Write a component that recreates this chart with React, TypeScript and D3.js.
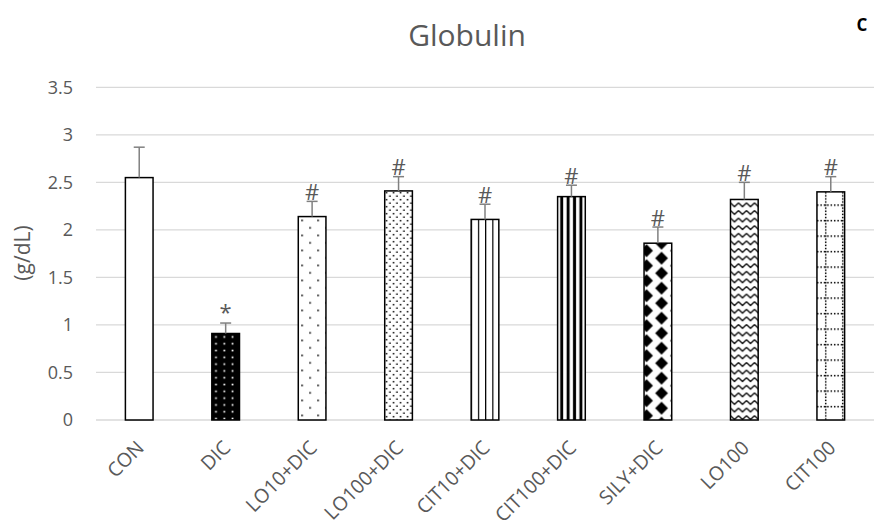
import React from "react";
import * as d3 from "d3";

// Serum globulin per group (g/dL), mean and upward SD
const groups = ["CON", "DIC", "LO10+DIC", "LO100+DIC", "CIT10+DIC", "CIT100+DIC", "SILY+DIC", "LO100", "CIT100"];
const means = [2.55, 0.91, 2.14, 2.41, 2.11, 2.35, 1.86, 2.32, 2.4];
const errors = [0.32, 0.11, 0.16, 0.15, 0.16, 0.12, 0.17, 0.18, 0.16];
const marks = ["", "*", "#", "#", "#", "#", "#", "#", "#"];
const yTicks = [0, 0.5, 1, 1.5, 2, 2.5, 3, 3.5];

// Fill pattern used for each bar, in group order
const fills = ["plain", "darkDots", "sparseDots", "denseDots", "thinVert", "thickVert", "diamonds", "zigzag", "dotGrid"];

const W = 874;
const H = 526;
const FONT = "'Open Sans', 'Liberation Sans', sans-serif";
const TEXT = "#595959";

function Pattern({ id, kind, x, top }: { id: string; kind: string; x: number; top: number }) {
  switch (kind) {
    case "darkDots":
      return (
        <pattern id={id} patternUnits="userSpaceOnUse" x={x} y={top} width={8.3} height={6.8}>
          <rect width={8.3} height={6.8} fill="#000" />
          <rect x={3.3} y={2.6} width={1.7} height={1.7} fill="#fff" />
        </pattern>
      );
    case "sparseDots":
      return (
        <pattern id={id} patternUnits="userSpaceOnUse" x={x} y={top} width={16} height={15}>
          <rect width={16} height={15} fill="#fff" />
          <rect x={3} y={3} width={1.6} height={1.6} fill="#000" />
          <rect x={11} y={10.5} width={1.6} height={1.6} fill="#000" />
        </pattern>
      );
    case "denseDots":
      return (
        <pattern id={id} patternUnits="userSpaceOnUse" x={x} y={top} width={7} height={7}>
          <rect width={7} height={7} fill="#fff" />
          <rect x={1} y={1} width={1.5} height={1.5} fill="#000" />
          <rect x={4.5} y={4.5} width={1.5} height={1.5} fill="#000" />
        </pattern>
      );
    case "thinVert":
      return (
        <pattern id={id} patternUnits="userSpaceOnUse" x={x - 0.5} y={top} width={7.2} height={10}>
          <rect width={7.2} height={10} fill="#fff" />
          <rect x={0} y={0} width={1.2} height={10} fill="#000" />
        </pattern>
      );
    case "thickVert":
      return (
        <pattern id={id} patternUnits="userSpaceOnUse" x={x} y={top} width={6.4} height={10}>
          <rect width={6.4} height={10} fill="#fff" />
          <rect x={2.6} y={0} width={3} height={10} fill="#000" />
        </pattern>
      );
    case "diamonds": {
      const d = (cx: number, cy: number) => `M${cx},${cy - 6.6}L${cx + 6.4},${cy}L${cx},${cy + 6.6}L${cx - 6.4},${cy}Z`;
      return (
        <pattern id={id} patternUnits="userSpaceOnUse" x={x + 2.5} y={top + 7.5} width={30} height={15}>
          <rect width={30} height={15} fill="#fff" />
          <path d={[d(0, 0), d(30, 0), d(0, 15), d(30, 15), d(15, 7.5)].join("")} fill="#000" />
        </pattern>
      );
    }
    case "zigzag":
      return (
        <pattern id={id} patternUnits="userSpaceOnUse" x={x} y={top + 2} width={8} height={7.6}>
          <rect width={8} height={7.6} fill="#fff" />
          <polyline points="0,1.5 4,5.3 8,1.5" fill="none" stroke="#000" strokeWidth={1.2} />
        </pattern>
      );
    case "dotGrid": {
      const dots = [] as React.ReactNode[];
      for (let i = 0; i < 5; i++) {
        dots.push(<rect key={`h${i}`} x={i * 3.4} y={0} width={1.5} height={1.5} fill="#000" />);
        dots.push(<rect key={`v${i}`} x={8} y={i * 3.1} width={1.5} height={1.5} fill="#000" />);
      }
      return (
        <pattern id={id} patternUnits="userSpaceOnUse" x={x} y={top + 12.5} width={17} height={15.5}>
          <rect width={17} height={15.5} fill="#fff" />
          {dots}
        </pattern>
      );
    }
    default:
      return null;
  }
}

export default function App() {
  const left = 96;
  const right = 874;
  const x = d3.scaleBand<string>().domain(groups).range([left, right]).paddingInner(0.68).paddingOuter(0.34);
  const y = d3.scaleLinear().domain([0, 3.5]).range([420, 87.3]);
  const bw = x.bandwidth();

  return (
    <svg width={W} height={H} style={{ position: "absolute", left: 0, top: 0, background: "#fff" }} fontFamily={FONT}>
      <defs>
        {groups.map((g, i) => (
          <Pattern key={g} id={`fill-${i}`} kind={fills[i]} x={x(g)!} top={y(means[i])} />
        ))}
      </defs>
      <rect width={W} height={H} fill="#fff" />

      {/* gridlines */}
      {yTicks.map((t) => (
        <line key={t} x1={left} x2={right} y1={y(t)} y2={y(t)} stroke="#d9d9d9" strokeWidth={1.3} />
      ))}

      {/* y tick labels */}
      {yTicks.map((t) => (
        <text key={t} x={73} y={y(t)} dy="0.36em" textAnchor="end" fontSize={18} fill={TEXT}>
          {d3.format("~g")(t)}
        </text>
      ))}

      <text transform={`translate(30,253) rotate(-90)`} textAnchor="middle" fontSize={21} fill={TEXT}>
        (g/dL)
      </text>

      {/* bars */}
      {groups.map((g, i) => {
        const bx = x(g)!;
        const top = y(means[i]);
        return (
          <rect
            key={g}
            x={bx}
            y={top}
            width={bw}
            height={y(0) - top}
            fill={fills[i] === "plain" ? "#fff" : `url(#fill-${i})`}
            stroke="#000"
            strokeWidth={1.5}
          />
        );
      })}

      {/* error bars and significance marks */}
      {groups.map((g, i) => {
        const cx = x(g)! + bw / 2;
        const top = y(means[i]);
        const cap = y(means[i] + errors[i]);
        return (
          <g key={g}>
            <line x1={cx} x2={cx} y1={top} y2={cap} stroke="#808080" strokeWidth={1.5} />
            <line x1={cx - 5.5} x2={cx + 5.5} y1={cap} y2={cap} stroke="#808080" strokeWidth={1.5} />
            {marks[i] && (
              <text x={cx} y={marks[i] === "*" ? cap - 3 : cap - 1.5} textAnchor="middle" fontSize={22} fill={TEXT}>
                {marks[i]}
              </text>
            )}
          </g>
        );
      })}

      {/* category labels */}
      {groups.map((g) => {
        const cx = x(g)! + bw / 2;
        return (
          <text key={g} transform={`translate(${cx + 6},${449}) rotate(-45)`} textAnchor="end" fontSize={19.5} fill={TEXT}>
            {g}
          </text>
        );
      })}

      <text x={467} y={46} textAnchor="middle" fontSize={30} fill={TEXT}>
        Globulin
      </text>
      <text x={862} y={31} textAnchor="middle" fontSize={17} fontWeight="bold" fill="#000">
        C
      </text>
    </svg>
  );
}
